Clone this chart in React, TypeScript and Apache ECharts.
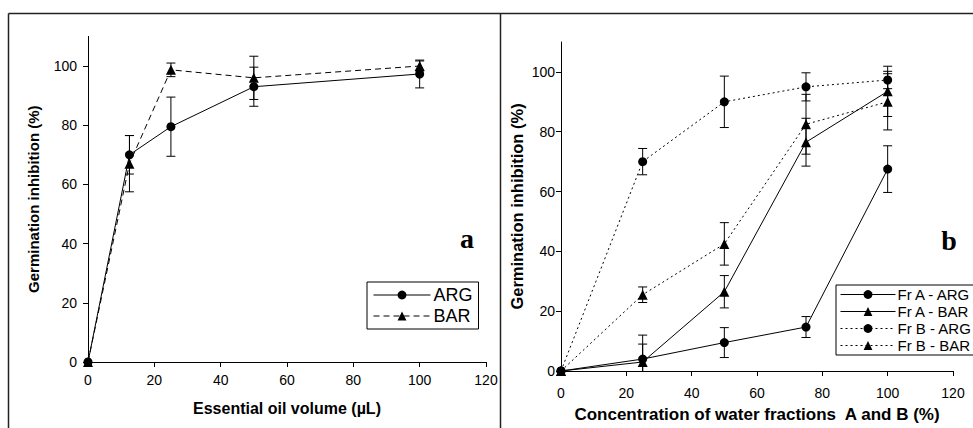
import React, { useEffect, useRef } from "react";
import * as echarts from "echarts";

// Panel a: essential oil volume
const xA = [0, 12.5, 25, 50, 100];
const argA = [0, 70, 79.5, 93, 97.3];
const argAErr = [0, 6.5, 10, 6.6, 4.7];
const barA = [0, 67, 98.7, 96, 100];
const barAErr = [0, 9.5, 2.3, 7.3, 1.7];

// Panel b: water fractions
const xB = [0, 25, 50, 75, 100];
const frAArg = [0, 4, 9.5, 14.7, 67.5];
const frAArgErr = [0, 8, 5, 3.5, 7.8];
const frABar = [0, 3, 26.5, 76.5, 93.5];
const frABarErr = [0, 6, 5.4, 8, 8.4];
const frBArg = [0, 70, 90, 95, 97.3];
const frBArgErr = [0, 4.4, 8.6, 4.7, 2.9];
const frBBar = [0, 25.5, 42.5, 82.5, 90];
const frBBarErr = [0, 2.6, 7.1, 10, 9.4];

const yTicks = [0, 20, 40, 60, 80, 100];

const FONT = "Liberation Sans, Arial, sans-serif";

function errSeries(axis: number, xs: number[], ys: number[], errs: number[]) {
  const data = xs
    .map((x, i) => [x, Math.max(0, ys[i] - errs[i]), ys[i] + errs[i]])
    .filter((_, i) => errs[i] > 0);
  return {
    type: "custom",
    xAxisIndex: axis,
    yAxisIndex: axis,
    data,
    silent: true,
    clip: false,
    z: 1,
    encode: { x: 0, y: [1, 2] },
    renderItem: (params: any, api: any) => {
      const x = api.value(0);
      const lo = api.coord([x, api.value(1)]);
      const hi = api.coord([x, api.value(2)]);
      const w = 4.5;
      const st = { stroke: "#000", lineWidth: 1 };
      return {
        type: "group",
        children: [
          { type: "line", shape: { x1: lo[0], y1: lo[1], x2: hi[0], y2: hi[1] }, style: st },
          { type: "line", shape: { x1: hi[0] - w, y1: hi[1], x2: hi[0] + w, y2: hi[1] }, style: st },
          ...(api.value(1) > 0
            ? [{ type: "line", shape: { x1: lo[0] - w, y1: lo[1], x2: lo[0] + w, y2: lo[1] }, style: st }]
            : []),
        ],
      };
    },
  };
}

function lineSeries(name: string, axis: number, xs: number[], ys: number[], symbol: string, dash: any) {
  return {
    name,
    type: "line",
    xAxisIndex: axis,
    yAxisIndex: axis,
    data: xs.map((x, i) => [x, ys[i]]),
    symbol,
    symbolSize: symbol === "triangle" ? 10 : 9,
    itemStyle: { color: "#000" },
    lineStyle: { color: "#000", width: 1, type: dash },
    z: 3,
  };
}

function xAxisCfg(grid: number, name: string, nameGap: number, fontSize: number, margin: number) {
  return {
    type: "value",
    gridIndex: grid,
    min: 0,
    max: 120,
    interval: 20,
    name,
    nameLocation: "middle",
    nameGap,
    nameTextStyle: { fontFamily: FONT, fontWeight: "bold", fontSize, color: "#000" },
    axisLine: { show: true, lineStyle: { color: "#000", width: 1 } },
    axisTick: { show: true, inside: false, length: 5, lineStyle: { color: "#000" } },
    axisLabel: { fontFamily: FONT, fontSize: 14, color: "#000", margin },
    splitLine: { show: false },
  };
}

function yAxisCfg(grid: number, name: string, nameGap: number, fontSize: number, margin: number) {
  return {
    type: "value",
    gridIndex: grid,
    min: 0,
    max: 110,
    interval: 20,
    name,
    nameLocation: "middle",
    nameGap,
    nameRotate: 90,
    nameTextStyle: { fontFamily: FONT, fontWeight: "bold", fontSize, color: "#000" },
    axisLine: { show: true, lineStyle: { color: "#000", width: 1 } },
    axisTick: { show: true, inside: false, length: 5, lineStyle: { color: "#000" }, customValues: yTicks },
    axisLabel: { fontFamily: FONT, fontSize: 14, color: "#000", margin, customValues: yTicks },
    splitLine: { show: false },
  };
}

export default function App() {
  const ref = useRef<HTMLDivElement>(null);
  useEffect(() => {
    if (!ref.current) return;
    const chart = echarts.init(ref.current, undefined, { renderer: "svg" });
    const frameStyle = { stroke: "#222", lineWidth: 1.5 };
    chart.setOption({
      animation: false,
      backgroundColor: "#fff",
      grid: [
        { left: 88, right: 487, top: 36.4, bottom: 66 },
        { left: 561, right: 20, top: 42, bottom: 55 },
      ],
      xAxis: [
        xAxisCfg(0, "Essential oil volume (µL)", 38, 16, 11),
        xAxisCfg(1, "Concentration of water fractions  A and B (%)", 35, 17, 15),
      ],
      yAxis: [
        yAxisCfg(0, "Germination inhibition (%)", 47, 15, 11),
        yAxisCfg(1, "Germination inhibition (%)", 36, 16.5, 6),
      ],
      legend: [
        {
          data: ["ARG", "BAR"],
          left: 367,
          top: 282,
          orient: "vertical",
          itemWidth: 57,
          itemHeight: 11,
          itemGap: 3,
          padding: [4, 6, 4, 6],
          borderColor: "#000",
          borderWidth: 1,
          selectedMode: false,
          lineStyle: { width: 1 },
          textStyle: { fontFamily: FONT, fontSize: 18, color: "#000", padding: [0, 0, 0, -2] },
        },
        {
          data: ["Fr A - ARG", "Fr A - BAR", "Fr B - ARG", "Fr B - BAR"],
          left: 836,
          top: 285,
          orient: "vertical",
          itemWidth: 55,
          itemHeight: 11,
          itemGap: 2,
          padding: [2, 3, 2, 4],
          borderColor: "#000",
          borderWidth: 1,
          selectedMode: false,
          lineStyle: { width: 1 },
          textStyle: { fontFamily: FONT, fontSize: 15, color: "#000", padding: [0, 0, 0, -3] },
        },
      ],
      graphic: [
        { type: "line", shape: { x1: 8.5, y1: 13.5, x2: 973, y2: 13.5 }, style: frameStyle },
        { type: "line", shape: { x1: 8.5, y1: 13.5, x2: 8.5, y2: 428 }, style: frameStyle },
        { type: "line", shape: { x1: 500.5, y1: 13.5, x2: 500.5, y2: 428 }, style: frameStyle },
        {
          type: "text",
          x: 467,
          y: 238,
          style: {
            text: "a",
            fontFamily: "Liberation Serif, serif",
            fontWeight: "bold",
            fontSize: 28,
            fill: "#000",
            align: "center",
            verticalAlign: "middle",
          },
        },
        {
          type: "text",
          x: 949,
          y: 240,
          style: {
            text: "b",
            fontFamily: "Liberation Serif, serif",
            fontWeight: "bold",
            fontSize: 28,
            fill: "#000",
            align: "center",
            verticalAlign: "middle",
          },
        },
      ],
      series: [
        errSeries(0, xA, argA, argAErr),
        errSeries(0, xA, barA, barAErr),
        lineSeries("ARG", 0, xA, argA, "circle", "solid"),
        lineSeries("BAR", 0, xA, barA, "triangle", [6, 4]),
        errSeries(1, xB, frAArg, frAArgErr),
        errSeries(1, xB, frABar, frABarErr),
        errSeries(1, xB, frBArg, frBArgErr),
        errSeries(1, xB, frBBar, frBBarErr),
        lineSeries("Fr A - ARG", 1, xB, frAArg, "circle", "solid"),
        lineSeries("Fr A - BAR", 1, xB, frABar, "triangle", "solid"),
        lineSeries("Fr B - ARG", 1, xB, frBArg, "circle", [2, 3]),
        lineSeries("Fr B - BAR", 1, xB, frBBar, "triangle", [2, 3]),
      ],
    });
    return () => chart.dispose();
  }, []);
  return (
    <div
      ref={ref}
      style={{ position: "fixed", left: 0, top: 0, width: 973, height: 428, background: "#fff" }}
    />
  );
}
